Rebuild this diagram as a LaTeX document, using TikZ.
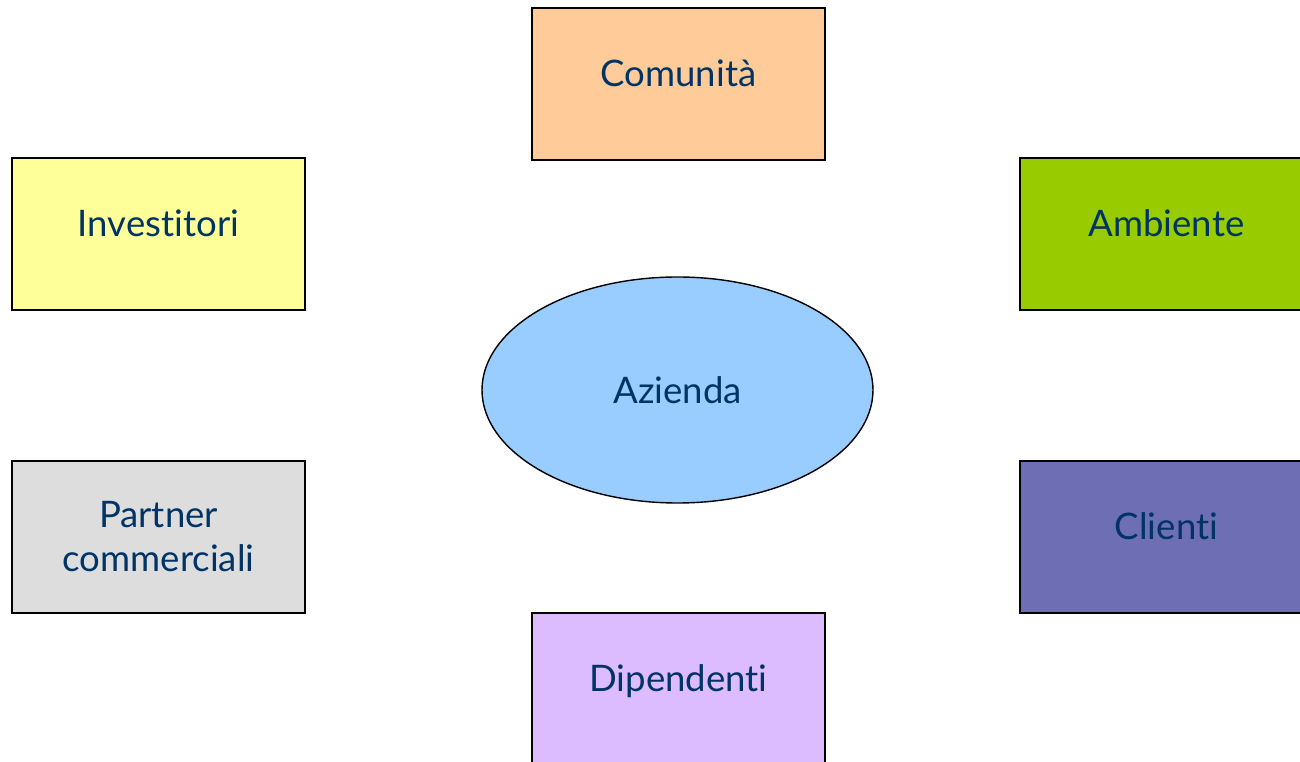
\documentclass[tikz,border=0pt]{standalone}
\usepackage{fontspec}
\setmainfont{Lato}[Ligatures=NoCommon]
\usepackage{xcolor}
\usepackage{tikz}
\usetikzlibrary{shapes,positioning}
\definecolor{cText}{HTML}{003366}
\definecolor{cComunita}{HTML}{FFCC99}
\definecolor{cInvestitori}{HTML}{FFFF99}
\definecolor{cAmbiente}{HTML}{99CC00}
\definecolor{cPartner}{HTML}{DDDDDD}
\definecolor{cClienti}{HTML}{6E6EB4}
\definecolor{cDipendenti}{HTML}{DDBBFF}
\definecolor{cAzienda}{HTML}{99CCFF}
\tikzstyle{tsLabel} = [
    text=cText,
    font=\fontsize{20.8}{25}\selectfont
]
\tikzstyle{tsBox} = [
    rectangle,
    tsLabel,
    draw=black,
    line width=0.8pt,
    minimum width=5.86cm,
    minimum height=3.04cm,
    text width=5.4cm,
    align=center,
    text height=0.75em,
    text depth=0.5em
]
\tikzstyle{tsEllipse} = [
    ellipse,
    tsLabel,
    draw=black,
    line width=0.8pt,
    minimum width=7.82cm,
    minimum height=4.52cm,
    inner sep=0pt
]

\begin{document}
\begin{tikzpicture}[x=2cm, y=2cm]
    \useasboundingbox (0,0) rectangle (13,7.62);
    \clip (0,0) rectangle (13,7.62);
    \fill[white] (0,0) rectangle (13,7.62);

    % Central company
    \node[tsEllipse, fill=cAzienda] (azienda) at (6.775, 3.72) {Azienda};

    % Stakeholders
    \node[tsBox, fill=cComunita] (comunita) at (6.785, 6.78) {Comunità};
    \node[tsBox, fill=cInvestitori] (investitori) at (1.585, 5.28) {Investitori};
    \node[tsBox, fill=cAmbiente] (ambiente) at (11.665, 5.28) {Ambiente};
    \node[tsBox, fill=cPartner, text height=, text depth=] (partner) at (1.585, 2.25) {Partner\\commerciali};
    \node[tsBox, fill=cClienti] (clienti) at (11.665, 2.25) {Clienti};
    \node[tsBox, fill=cDipendenti] (dipendenti) at (6.785, 0.73) {Dipendenti};

\end{tikzpicture}
\end{document}
